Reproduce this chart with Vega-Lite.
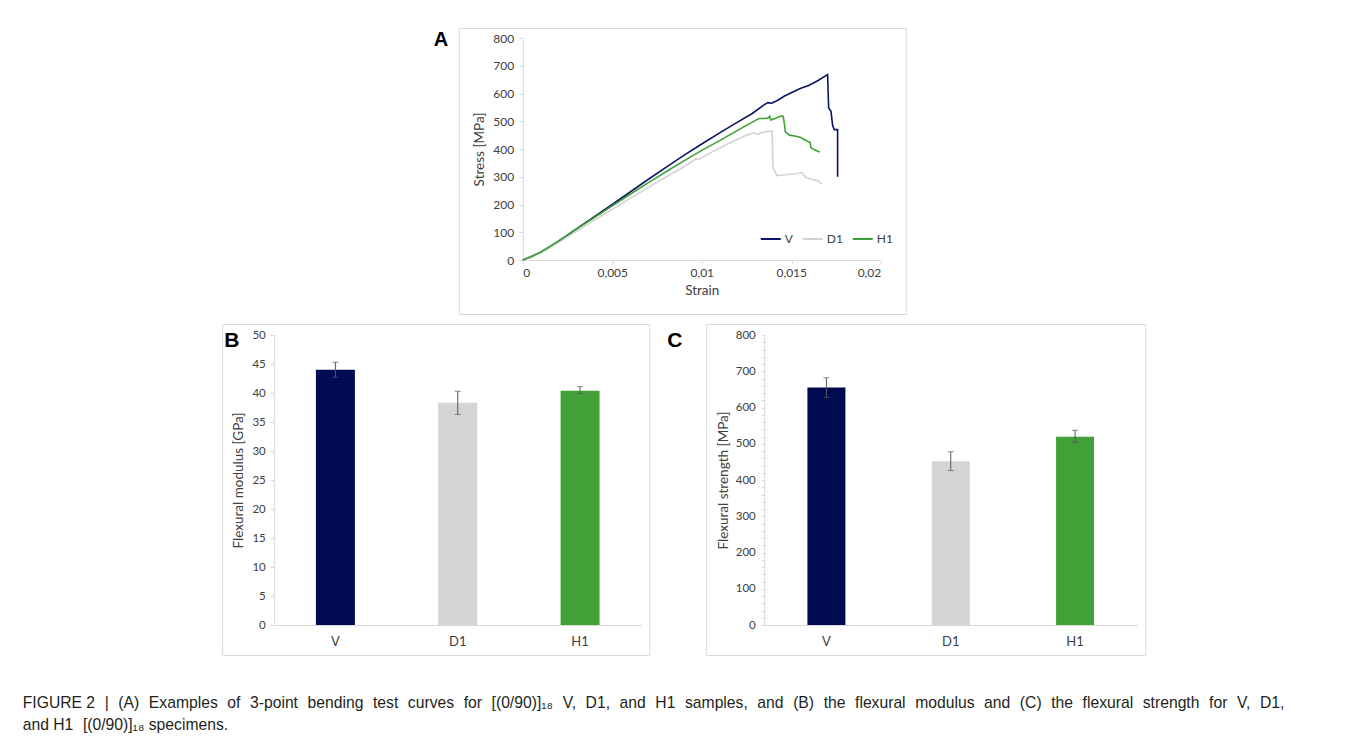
{
  "$schema": "https://vega.github.io/schema/vega-lite/v6.json",
  "background": "white",
  "padding": {"left": 22, "top": 27, "right": 5, "bottom": 5},
  "config": {
    "font": "Lato",
    "view": {"stroke": "#d9d9d9", "strokeWidth": 1},
    "axis": {
      "domainColor": "#d9d9d9",
      "tickColor": "#d9d9d9",
      "tickSize": 4,
      "labelColor": "#404040",
      "titleColor": "#404040",
      "labelFont": "Lato",
      "titleFont": "Lato",
      "labelFontSize": 12,
      "titleFontSize": 13.5,
      "titleFontWeight": "normal",
      "labelOverlap": false,
      "grid": false
    }
  },
  "resolve": {"scale": {"color": "independent"}, "legend": {"color": "independent"}},
  "datasets": {
    "curves": [
      {"series": "V", "i": 0, "strain": 0, "stress": 0},
      {"series": "V", "i": 1, "strain": 0.0005, "stress": 12},
      {"series": "V", "i": 2, "strain": 0.001, "stress": 28},
      {"series": "V", "i": 3, "strain": 0.0015, "stress": 47},
      {"series": "V", "i": 4, "strain": 0.002, "stress": 68},
      {"series": "V", "i": 5, "strain": 0.003, "stress": 112},
      {"series": "V", "i": 6, "strain": 0.004, "stress": 156},
      {"series": "V", "i": 7, "strain": 0.005, "stress": 200},
      {"series": "V", "i": 8, "strain": 0.006, "stress": 245},
      {"series": "V", "i": 9, "strain": 0.007, "stress": 290},
      {"series": "V", "i": 10, "strain": 0.008, "stress": 334},
      {"series": "V", "i": 11, "strain": 0.009, "stress": 377},
      {"series": "V", "i": 12, "strain": 0.010, "stress": 418},
      {"series": "V", "i": 13, "strain": 0.011, "stress": 458},
      {"series": "V", "i": 14, "strain": 0.012, "stress": 497},
      {"series": "V", "i": 15, "strain": 0.0128, "stress": 527},
      {"series": "V", "i": 16, "strain": 0.0135, "stress": 560},
      {"series": "V", "i": 17, "strain": 0.0137, "stress": 567},
      {"series": "V", "i": 18, "strain": 0.0139, "stress": 565},
      {"series": "V", "i": 19, "strain": 0.0142, "stress": 574},
      {"series": "V", "i": 20, "strain": 0.0146, "stress": 590},
      {"series": "V", "i": 21, "strain": 0.015, "stress": 603},
      {"series": "V", "i": 22, "strain": 0.0155, "stress": 618},
      {"series": "V", "i": 23, "strain": 0.016, "stress": 630},
      {"series": "V", "i": 24, "strain": 0.0165, "stress": 647},
      {"series": "V", "i": 25, "strain": 0.01703, "stress": 668},
      {"series": "V", "i": 26, "strain": 0.01709, "stress": 548},
      {"series": "V", "i": 27, "strain": 0.01722, "stress": 536},
      {"series": "V", "i": 28, "strain": 0.01731, "stress": 485},
      {"series": "V", "i": 29, "strain": 0.0174, "stress": 470},
      {"series": "V", "i": 30, "strain": 0.01759, "stress": 470},
      {"series": "V", "i": 31, "strain": 0.01759, "stress": 300},
      {"series": "D1", "i": 0, "strain": 0, "stress": 0},
      {"series": "D1", "i": 1, "strain": 0.001, "stress": 26},
      {"series": "D1", "i": 2, "strain": 0.002, "stress": 63},
      {"series": "D1", "i": 3, "strain": 0.003, "stress": 103},
      {"series": "D1", "i": 4, "strain": 0.004, "stress": 143},
      {"series": "D1", "i": 5, "strain": 0.005, "stress": 183},
      {"series": "D1", "i": 6, "strain": 0.006, "stress": 222},
      {"series": "D1", "i": 7, "strain": 0.007, "stress": 261},
      {"series": "D1", "i": 8, "strain": 0.008, "stress": 299},
      {"series": "D1", "i": 9, "strain": 0.009, "stress": 336},
      {"series": "D1", "i": 10, "strain": 0.0097, "stress": 365},
      {"series": "D1", "i": 11, "strain": 0.00985, "stress": 363},
      {"series": "D1", "i": 12, "strain": 0.0105, "stress": 387},
      {"series": "D1", "i": 13, "strain": 0.0115, "stress": 420},
      {"series": "D1", "i": 14, "strain": 0.0125, "stress": 450},
      {"series": "D1", "i": 15, "strain": 0.0129, "stress": 458},
      {"series": "D1", "i": 16, "strain": 0.0131, "stress": 453},
      {"series": "D1", "i": 17, "strain": 0.0134, "stress": 460},
      {"series": "D1", "i": 18, "strain": 0.01393, "stress": 465},
      {"series": "D1", "i": 19, "strain": 0.01398, "stress": 330},
      {"series": "D1", "i": 20, "strain": 0.0141, "stress": 318},
      {"series": "D1", "i": 21, "strain": 0.0142, "stress": 304},
      {"series": "D1", "i": 22, "strain": 0.0147, "stress": 307},
      {"series": "D1", "i": 23, "strain": 0.015, "stress": 310},
      {"series": "D1", "i": 24, "strain": 0.0153, "stress": 311},
      {"series": "D1", "i": 25, "strain": 0.0156, "stress": 315},
      {"series": "D1", "i": 26, "strain": 0.0158, "stress": 298},
      {"series": "D1", "i": 27, "strain": 0.0162, "stress": 290},
      {"series": "D1", "i": 28, "strain": 0.0165, "stress": 285},
      {"series": "D1", "i": 29, "strain": 0.01671, "stress": 274},
      {"series": "H1", "i": 0, "strain": 0, "stress": 0},
      {"series": "H1", "i": 1, "strain": 0.001, "stress": 28},
      {"series": "H1", "i": 2, "strain": 0.002, "stress": 68},
      {"series": "H1", "i": 3, "strain": 0.003, "stress": 111},
      {"series": "H1", "i": 4, "strain": 0.004, "stress": 153},
      {"series": "H1", "i": 5, "strain": 0.005, "stress": 195},
      {"series": "H1", "i": 6, "strain": 0.006, "stress": 237},
      {"series": "H1", "i": 7, "strain": 0.007, "stress": 278},
      {"series": "H1", "i": 8, "strain": 0.008, "stress": 318},
      {"series": "H1", "i": 9, "strain": 0.009, "stress": 357},
      {"series": "H1", "i": 10, "strain": 0.010, "stress": 395},
      {"series": "H1", "i": 11, "strain": 0.011, "stress": 430},
      {"series": "H1", "i": 12, "strain": 0.012, "stress": 467},
      {"series": "H1", "i": 13, "strain": 0.013, "stress": 503},
      {"series": "H1", "i": 14, "strain": 0.0132, "stress": 510},
      {"series": "H1", "i": 15, "strain": 0.0135, "stress": 510},
      {"series": "H1", "i": 16, "strain": 0.0137, "stress": 512},
      {"series": "H1", "i": 17, "strain": 0.0138, "stress": 518},
      {"series": "H1", "i": 18, "strain": 0.01385, "stress": 505},
      {"series": "H1", "i": 19, "strain": 0.0141, "stress": 510},
      {"series": "H1", "i": 20, "strain": 0.0144, "stress": 519},
      {"series": "H1", "i": 21, "strain": 0.01455, "stress": 517},
      {"series": "H1", "i": 22, "strain": 0.01462, "stress": 490},
      {"series": "H1", "i": 23, "strain": 0.01467, "stress": 462},
      {"series": "H1", "i": 24, "strain": 0.0149, "stress": 450},
      {"series": "H1", "i": 25, "strain": 0.0152, "stress": 447},
      {"series": "H1", "i": 26, "strain": 0.0155, "stress": 442},
      {"series": "H1", "i": 27, "strain": 0.0157, "stress": 435},
      {"series": "H1", "i": 28, "strain": 0.0159, "stress": 428},
      {"series": "H1", "i": 29, "strain": 0.01605, "stress": 424},
      {"series": "H1", "i": 30, "strain": 0.0161, "stress": 405},
      {"series": "H1", "i": 31, "strain": 0.0163, "stress": 397},
      {"series": "H1", "i": 32, "strain": 0.01658, "stress": 389}
    ],
    "props": [
      {"sample": "V", "modulus": 44.0, "mlo": 42.7, "mhi": 45.3, "strength": 655, "slo": 628, "shi": 682},
      {"sample": "D1", "modulus": 38.3, "mlo": 36.3, "mhi": 40.3, "strength": 452, "slo": 426, "shi": 478},
      {"sample": "H1", "modulus": 40.4, "mlo": 39.9, "mhi": 41.1, "strength": 519, "slo": 503, "shi": 537}
    ]
  },
  "title": {
    "text": [
      "FIGURE 2 \u2004| \u2004(A) \u2004Examples \u2004of \u20043-point \u2004bending \u2004test \u2004curves \u2004for \u2004[(0/90)]₁₈ \u2004V, \u2004D1, \u2004and \u2004H1 \u2004samples, \u2004and \u2004(B) \u2004the \u2004flexural \u2004modulus \u2004and \u2004(C) \u2004the \u2004flexural \u2004strength \u2004for \u2004V, \u2004D1,",
      "and H1 \u2004[(0/90)]₁₈ specimens."
    ],
    "orient": "bottom",
    "anchor": "start",
    "frame": "bounds",
    "dx": -199,
    "offset": 40,
    "font": "Liberation Sans",
    "fontSize": 15.7,
    "fontWeight": "normal",
    "color": "#231f20",
    "lineHeight": 22
  },
  "center": true,
  "spacing": 8,
  "vconcat": [
    {
      "width": 447,
      "height": 286,
      "title": {"text": "A", "orient": "top", "anchor": "start", "frame": "bounds", "font": "Liberation Sans", "fontSize": 20, "fontWeight": "bold", "color": "black", "dx": -25, "dy": 22, "offset": 0},
      "data": {"name": "curves"},
      "mark": {"type": "line", "strokeWidth": 1.6},
      "encoding": {
        "x": {"field": "strain", "type": "quantitative", "scale": {"domain": [0, 0.02], "nice": false, "range": [64, 422]},
          "axis": {"title": "Strain", "offset": -54, "values": [0, 0.005, 0.01, 0.015, 0.02], "format": "~g", "labelExpr": "replace(datum.label, '.', ',')", "labelPadding": 3, "titlePadding": 5}},
        "y": {"field": "stress", "type": "quantitative", "scale": {"domain": [0, 800], "nice": false, "range": [232, 10]},
          "axis": {"title": "Stress [MPa]", "offset": -64, "values": [0, 100, 200, 300, 400, 500, 600, 700, 800], "labelPadding": 5, "titlePadding": 6}},
        "color": {"field": "series", "type": "nominal",
          "scale": {"domain": ["V", "D1", "H1"], "range": ["#0b1464", "#d3d3d3", "#3fa035"]},
          "legend": {"title": null, "orient": "none", "legendX": 286, "legendY": 185, "padding": 15, "direction": "horizontal", "symbolType": "stroke", "symbolSize": 400, "symbolStrokeWidth": 2, "labelFontSize": 12, "labelColor": "#404040", "columnPadding": 5, "labelOffset": 3}},
        "order": {"field": "i", "type": "quantitative"}
      }
    },
    {
      "spacing": 16,
      "hconcat": [
        {
          "width": 427,
          "height": 331,
          "title": {"text": "B", "orient": "top", "anchor": "start", "frame": "bounds", "font": "Liberation Sans", "fontSize": 21, "fontWeight": "bold", "color": "black", "dx": 2, "dy": 27, "offset": 0},
          "data": {"name": "props"},
          "layer": [
            {
              "mark": {"type": "bar", "size": 39},
              "encoding": {
                "x": {"field": "sample", "type": "nominal", "sort": ["V", "D1", "H1"], "scale": {"paddingInner": 0, "paddingOuter": 0, "range": [52, 419]},
                  "axis": {"title": null, "offset": -30, "labelAngle": 0, "ticks": false, "labelPadding": 10, "labelFontSize": 13}},
                "y": {"field": "modulus", "type": "quantitative", "scale": {"domain": [0, 50], "nice": false, "range": [301, 11]},
                  "axis": {"title": "Flexural modulus [GPa]", "offset": -52, "values": [0, 5, 10, 15, 20, 25, 30, 35, 40, 45, 50], "labelFontSize": 11.5, "labelPadding": 5, "titlePadding": 6}},
                "color": {"field": "sample", "type": "nominal", "scale": {"domain": ["V", "D1", "H1"], "range": ["#000b52", "#d4d4d4", "#42a136"]}, "legend": null}
              }
            },
            {
              "mark": {"type": "errorbar", "color": "#595959", "thickness": 1, "ticks": {"size": 6, "color": "#595959"}},
              "encoding": {
                "x": {"field": "sample", "type": "nominal", "sort": ["V", "D1", "H1"],
                  "axis": {"title": null, "offset": -30, "labelAngle": 0, "ticks": false, "labelPadding": 10, "labelFontSize": 13}},
                "y": {"field": "mlo", "type": "quantitative",
                  "axis": {"title": "Flexural modulus [GPa]", "offset": -52, "values": [0, 5, 10, 15, 20, 25, 30, 35, 40, 45, 50], "labelFontSize": 11.5, "labelPadding": 5, "titlePadding": 6}},
                "y2": {"field": "mhi"}
              }
            }
          ]
        },
        {
          "width": 439,
          "height": 331,
          "title": {"text": "C", "orient": "top", "anchor": "start", "frame": "bounds", "font": "Liberation Sans", "fontSize": 21, "fontWeight": "bold", "color": "black", "dx": -39, "dy": 27, "offset": 0},
          "data": {"name": "props"},
          "layer": [
            {
              "mark": {"type": "bar", "size": 38},
              "encoding": {
                "x": {"field": "sample", "type": "nominal", "sort": ["V", "D1", "H1"], "scale": {"paddingInner": 0, "paddingOuter": 0, "range": [58, 431]},
                  "axis": {"title": null, "offset": -30, "labelAngle": 0, "ticks": false, "labelPadding": 10, "labelFontSize": 13}},
                "y": {"field": "strength", "type": "quantitative", "scale": {"domain": [0, 800], "nice": false, "range": [301, 11]},
                  "axis": {"title": "Flexural strength [MPa]", "offset": -58, "values": [0, 20, 40, 60, 80, 100, 120, 140, 160, 180, 200, 220, 240, 260, 280, 300, 320, 340, 360, 380, 400, 420, 440, 460, 480, 500, 520, 540, 560, 580, 600, 620, 640, 660, 680, 700, 720, 740, 760, 780, 800], "labelExpr": "datum.value % 100 === 0 ? datum.label : ''", "labelFontSize": 11.5, "tickSize": 3, "labelPadding": 6, "titlePadding": 5}},
                "color": {"field": "sample", "type": "nominal", "scale": {"domain": ["V", "D1", "H1"], "range": ["#000b52", "#d4d4d4", "#42a136"]}, "legend": null}
              }
            },
            {
              "mark": {"type": "errorbar", "color": "#595959", "thickness": 1, "ticks": {"size": 6, "color": "#595959"}},
              "encoding": {
                "x": {"field": "sample", "type": "nominal", "sort": ["V", "D1", "H1"],
                  "axis": {"title": null, "offset": -30, "labelAngle": 0, "ticks": false, "labelPadding": 10, "labelFontSize": 13}},
                "y": {"field": "slo", "type": "quantitative",
                  "axis": {"title": "Flexural strength [MPa]", "offset": -58, "values": [0, 20, 40, 60, 80, 100, 120, 140, 160, 180, 200, 220, 240, 260, 280, 300, 320, 340, 360, 380, 400, 420, 440, 460, 480, 500, 520, 540, 560, 580, 600, 620, 640, 660, 680, 700, 720, 740, 760, 780, 800], "labelExpr": "datum.value % 100 === 0 ? datum.label : ''", "labelFontSize": 11.5, "tickSize": 3, "labelPadding": 6, "titlePadding": 5}},
                "y2": {"field": "shi"}
              }
            }
          ]
        }
      ]
    }
  ]
}
